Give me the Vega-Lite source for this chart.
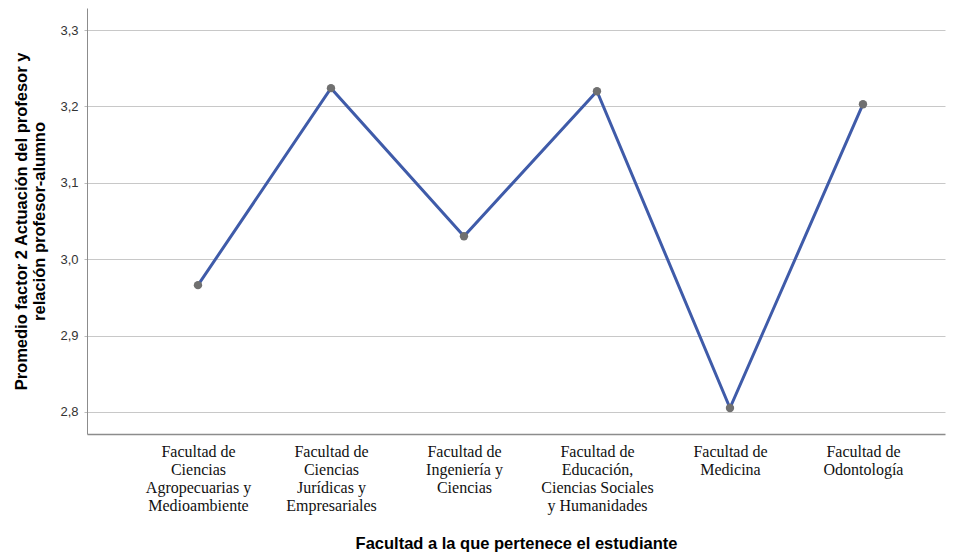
{
  "$schema": "https://vega.github.io/schema/vega-lite/v6.json",
  "width": 858,
  "height": 426,
  "autosize": {"type": "none"},
  "padding": {"left": 87, "top": 8, "right": 15, "bottom": 121},
  "background": "white",
  "config": {"view": {"stroke": null}},
  "data": {
    "values": [
      {"facultad": "Facultad de\nCiencias\nAgropecuarias y\nMedioambiente", "promedio": 2.966},
      {"facultad": "Facultad de\nCiencias\nJurídicas y\nEmpresariales", "promedio": 3.224},
      {"facultad": "Facultad de\nIngeniería y\nCiencias", "promedio": 3.030},
      {"facultad": "Facultad de\nEducación,\nCiencias Sociales\ny Humanidades", "promedio": 3.220},
      {"facultad": "Facultad de\nMedicina", "promedio": 2.805},
      {"facultad": "Facultad de\nOdontología", "promedio": 3.203}
    ]
  },
  "encoding": {
    "x": {
      "field": "facultad",
      "type": "nominal",
      "sort": null,
      "scale": {"type": "point", "padding": 0.7256, "align": 0.575},
      "axis": {
        "title": "Facultad a la que pertenece el estudiante",
        "titleFont": "Liberation Sans",
        "titleFontSize": 16.5,
        "titleFontWeight": "bold",
        "titleColor": "#000000",
        "titlePadding": 22,
        "labelAngle": 0,
        "labelFont": "Liberation Serif",
        "labelFontSize": 16,
        "labelColor": "#111111",
        "labelLineHeight": 18.3,
        "labelBaseline": "top",
        "labelPadding": 9,
        "labelExpr": "split(datum.label, '\\n')",
        "ticks": false,
        "domainColor": "#8c8c8c",
        "domainWidth": 1.5,
        "grid": false
      }
    },
    "y": {
      "field": "promedio",
      "type": "quantitative",
      "scale": {"domain": [2.771, 3.329], "nice": false, "zero": false},
      "axis": {
        "values": [2.8, 2.9, 3.0, 3.1, 3.2, 3.3],
        "labelExpr": "replace(format(datum.value, '.1f'), '.', ',')",
        "title": ["Promedio factor 2 Actuación del profesor y", "relación profesor-alumno"],
        "titleFont": "Liberation Sans",
        "titleFontSize": 16.5,
        "titleFontWeight": "bold",
        "titleColor": "#000000",
        "titlePadding": 12,
        "titleLineHeight": 18,
        "labelFont": "Liberation Sans",
        "labelFontSize": 13,
        "labelColor": "#333333",
        "labelPadding": 6,
        "tickColor": "#bbbbbb",
        "tickSize": 3,
        "domainColor": "#8c8c8c",
        "domainWidth": 1,
        "gridColor": "#c8c8c8",
        "gridWidth": 1
      }
    }
  },
  "layer": [
    {"mark": {"type": "line", "color": "#3F5BA9", "strokeWidth": 3}},
    {"mark": {"type": "point", "filled": true, "color": "#707070", "opacity": 1, "size": 70}}
  ]
}
